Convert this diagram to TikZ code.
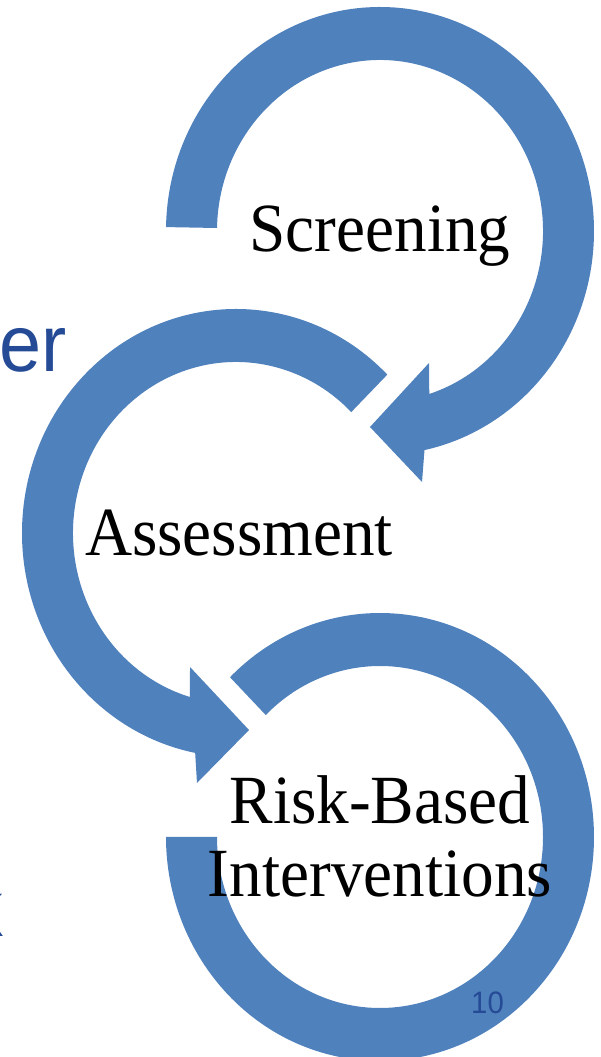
\documentclass[tikz,border=0pt]{standalone}
\usepackage{fontspec}
\usepackage{tikz}
\usetikzlibrary{positioning}
\newfontfamily\slideserif[FakeStretch=0.945]{Liberation Serif}
\newfontfamily\slidesans[FakeStretch=0.945]{Liberation Sans}
\definecolor{arcblue}{RGB}{79,129,189}
\definecolor{titleblue}{RGB}{37,74,150}
\tikzset{
	steptext/.style={inner sep=0pt, anchor=base, text=black,
		font=\slideserif\fontsize{69}{73}\selectfont},
	slidetext/.style={inner sep=0pt, text=titleblue}
}

\begin{document}
\begin{tikzpicture}[x=1pt,y=1pt]
	%Hintergrund
	\fill[white] (0,0) rectangle (600,1057);
	\useasboundingbox (0,0) rectangle (600,1057);
	% Pfeil oben
	\begin{scope}[shift={(380,826)}]
		\fill[arcblue] (179:214 and 224) arc[start angle=179,end angle=-78,x radius=214,y radius=224]
			-- (42,-251) -- (-10,-196) -- (49,-132) -- (-72.4:163 and 171)
			arc[start angle=-72.4,end angle=179,x radius=163,y radius=171] -- cycle;
	\end{scope}
	% Pfeil mitte
	\begin{scope}[shift={(236,524)}]
		\fill[arcblue] (45:214 and 224) arc[start angle=45,end angle=259,x radius=214,y radius=224]
			-- (-39,-250) -- (13,-197) -- (-46,-134) -- (253.6:163 and 171)
			arc[start angle=253.6,end angle=45,x radius=163,y radius=171] -- cycle;
	\end{scope}
	% Bogen unten
	\begin{scope}[shift={(380,220)}]
		\fill[arcblue] (134.5:214 and 224) arc[start angle=134.5,end angle=-180,x radius=214,y radius=224]
			-- (-180:163 and 171)
			arc[start angle=-180,end angle=134.5,x radius=163,y radius=171] -- cycle;
	\end{scope}
	%Beschriftung
	\node[steptext] (screening) at (380,805) {Screening};
	\node[steptext] (assessment) at (239,501) {Assessment};
	\node[steptext] (riskbased) at (380,233) {Risk-Based};
	\node[steptext] (interventions) at ([yshift=-73pt]riskbased.base) {Interventions};
	% Folientext
	\node[slidetext, anchor=base east, font=\slidesans\fontsize{80}{90}\selectfont] (titleend) at (67,685) {er};
	\node[slidetext, anchor=base east, font=\slidesans\fontsize{80}{90}\selectfont] (lineend) at (4,120) {k};
	\node[slidetext, anchor=base, font=\slidesans\fontsize{31}{36}\selectfont] (pagenum) at (487.5,43) {10};
\end{tikzpicture}
\end{document}
